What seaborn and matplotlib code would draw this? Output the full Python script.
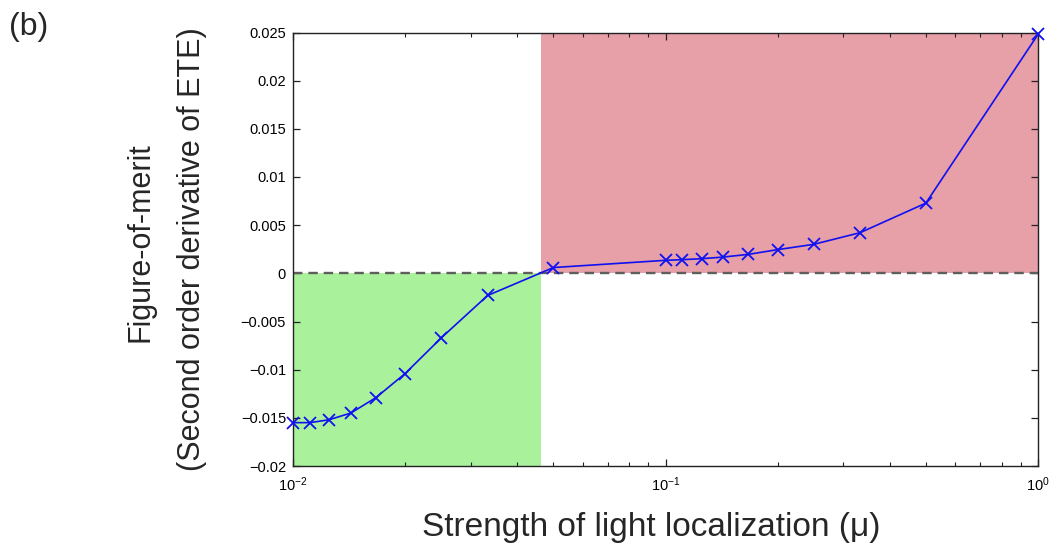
import matplotlib
matplotlib.use("Agg")
import matplotlib.pyplot as plt
import matplotlib.ticker as mticker
import seaborn as sns
import pandas as pd

# ---- data ----
mu = [0.01, 0.0111, 0.0125, 0.0143, 0.0167, 0.02, 0.025, 0.0333, 0.05,
      0.1, 0.111, 0.125, 0.143, 0.167, 0.2, 0.25, 0.333, 0.5, 1.0]
fom = [-0.0155, -0.0155, -0.0152, -0.0145, -0.0129, -0.0104, -0.0067, -0.0023, 0.0006,
       0.00135, 0.00142, 0.00152, 0.00169, 0.00197, 0.00246, 0.00301, 0.00422, 0.00729, 0.0248]
mu_cross = 0.0464
x_limits = [0.01, 1.0]
y_limits = [-0.02, 0.025]
y_ticks = [-0.02, -0.015, -0.01, -0.005, 0, 0.005, 0.01, 0.015, 0.02, 0.025]
y_tick_labels = ["\u22120.02", "\u22120.015", "\u22120.01", "\u22120.005", "0",
                 "0.005", "0.01", "0.015", "0.02", "0.025"]

df = pd.DataFrame({"mu": mu, "fom": fom})

sns.set_style("ticks")
plt.rcParams["font.family"] = ["Liberation Sans", "DejaVu Sans"]
plt.rcParams["mathtext.fontset"] = "custom"
plt.rcParams["mathtext.rm"] = "Liberation Sans"
plt.rcParams["mathtext.it"] = "Liberation Sans:italic"

fig = plt.figure(figsize=(10.52, 5.47), dpi=100)
ax = fig.add_axes([293 / 1052, 1 - 466 / 547, (1038 - 293) / 1052, (466 - 32.5) / 547])

# shaded regions
ax.fill_between([mu_cross, x_limits[1]], 0, y_limits[1], color="#E79FA8", lw=0, zorder=0)
ax.fill_between([x_limits[0], mu_cross], y_limits[0], 0, color="#A9F29B", lw=0, zorder=0)

# zero line
ax.axhline(0, color="#5e5e5e", lw=1.7, ls=(0, (4, 2.5)), zorder=1)

sns.lineplot(data=df, x="mu", y="fom", ax=ax, color="#1010F0", lw=1.2,
             marker="x", markersize=8, markeredgewidth=1.3,
             markeredgecolor="#1010F0", zorder=3, clip_on=False)

ax.set_xscale("log")
ax.set_xlim(*x_limits)
ax.set_ylim(*y_limits)
ax.set_yticks(y_ticks)
ax.set_yticklabels(y_tick_labels)
ax.xaxis.set_major_locator(mticker.LogLocator(base=10, numticks=10))
ax.xaxis.set_minor_locator(mticker.LogLocator(base=10, subs=range(2, 10), numticks=20))
ax.xaxis.set_minor_formatter(mticker.NullFormatter())

ax.tick_params(which="both", direction="in", top=True, right=True, colors="#222222",
               labelcolor="black", labelsize=10.5)
ax.tick_params(which="major", length=5, width=0.9)
ax.tick_params(which="minor", length=3, width=0.8)
ax.tick_params(axis="x", pad=7)
ax.tick_params(axis="y", pad=5)
for s in ax.spines.values():
    s.set_color("#222222")
    s.set_linewidth(1.0)

ax.set_xlabel("Strength of light localization (\u03bc)", fontsize=24)
ax.xaxis.set_label_coords(0.481, -0.105)
ax.set_ylabel("")

fig.text(141 / 1052, 1 - 242 / 547, "Figure-of-merit", rotation=90, fontsize=22,
         ha="center", va="center")
fig.text(192 / 1052, 1 - 249 / 547, "(Second order derivative of ETE)", rotation=90,
         fontsize=22, ha="center", va="center")
fig.text(9 / 1052, 1 - 27 / 547, "(b)", fontsize=23, ha="left", va="center")

fig.savefig("out.png", dpi=100)
